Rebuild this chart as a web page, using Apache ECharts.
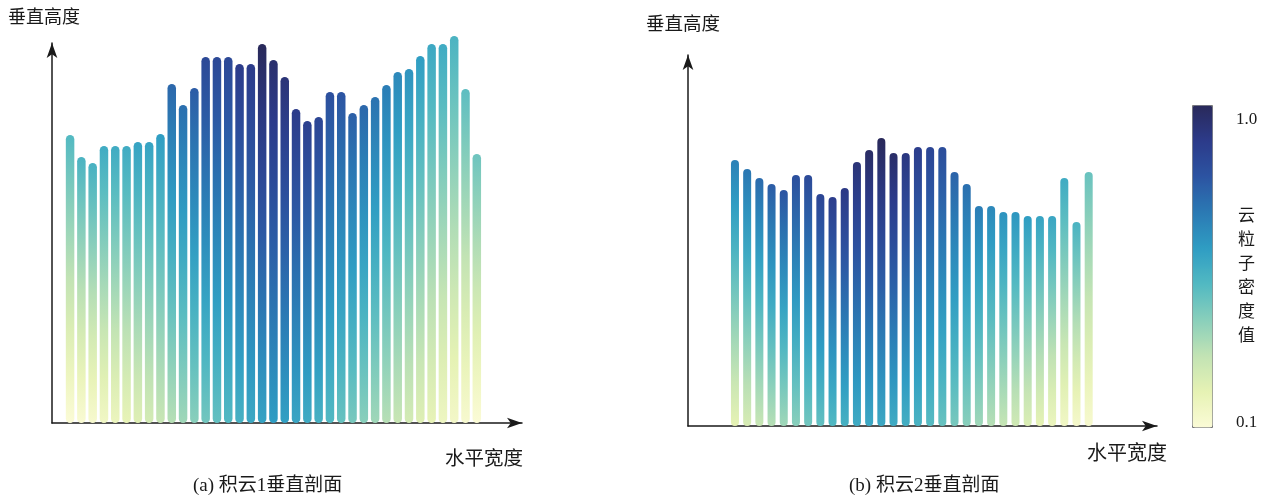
<!DOCTYPE html>
<html>
<head>
<meta charset="utf-8">
<title>积云垂直剖面</title>
<script src="https://cdn.jsdelivr.net/npm/echarts@6/dist/echarts.min.js"></script>
<style>
html, body { margin: 0; padding: 0; background: #fff; }
#main { width: 1262px; height: 499px; }
</style>
</head>
<body>
<div id="main"></div>
<script>
// (a) 积云1: 柱高 + 顶部/底部云粒子密度
var heightA = [288,266,260,277,277,277,281,281,289,339,318,335,366,366,366,359,359,379,363,346,314,302,306,331,331,310,318,326,338,351,354,367,379,379,387,334,269];
var topA = [0.50,0.52,0.53,0.55,0.55,0.55,0.58,0.58,0.60,0.75,0.73,0.78,0.85,0.85,0.85,0.90,0.90,1.00,0.96,0.94,0.90,0.88,0.86,0.82,0.80,0.77,0.75,0.72,0.69,0.66,0.63,0.60,0.56,0.55,0.52,0.48,0.45];
var bottomA = [0.10,0.11,0.12,0.15,0.17,0.19,0.22,0.25,0.28,0.32,0.36,0.40,0.44,0.47,0.50,0.53,0.56,0.58,0.60,0.59,0.57,0.55,0.53,0.50,0.46,0.43,0.40,0.36,0.32,0.28,0.25,0.22,0.19,0.16,0.14,0.12,0.10];

// (b) 积云2
var heightB = [266,257,248,242,236,251,251,232,229,238,264,276,288,273,273,279,279,279,254,242,220,220,214,214,210,210,210,248,204,254];
var topB = [0.68,0.71,0.74,0.78,0.80,0.82,0.84,0.86,0.89,0.91,0.94,0.98,1.00,0.97,0.92,0.89,0.86,0.83,0.76,0.73,0.69,0.66,0.63,0.62,0.60,0.58,0.57,0.55,0.52,0.46];
var bottomB = [0.20,0.24,0.28,0.32,0.36,0.40,0.44,0.47,0.50,0.53,0.55,0.56,0.56,0.55,0.54,0.52,0.49,0.46,0.43,0.40,0.36,0.32,0.29,0.26,0.23,0.20,0.17,0.15,0.13,0.12];

var densityMin = 0.1;
var densityMax = 1.0;
var densityLabels = ['1.0', '0.1'];
var palette = ['#fbfbd6','#e6f2b4','#c2e3b4','#89cfbb','#52b9c2','#2f9dc3','#2b7ab4','#2c54a2','#2c3b8a','#29295a'];

var myChart = echarts.init(document.getElementById('main'));

function colorAt(d) {
    var t = (d - densityMin) / (densityMax - densityMin);
    t = Math.max(0, Math.min(1, t));
    return echarts.color.lerp(t, palette);
}

function buildData(heights, tops, bottoms) {
    var list = [];
    for (var i = 0; i < heights.length; i++) {
        var stops = [];
        for (var k = 0; k <= 6; k++) {
            var d = tops[i] + (bottoms[i] - tops[i]) * k / 6;
            stops.push({ offset: k / 6, color: colorAt(d) });
        }
        list.push({
            value: [i + 1, heights[i]],
            itemStyle: { color: new echarts.graphic.LinearGradient(0, 0, 0, 1, stops) }
        });
    }
    return list;
}

function axis(idx, min, max) {
    return {
        type: 'value',
        gridIndex: idx,
        min: min,
        max: max,
        axisLine: {
            show: true,
            onZero: false,
            symbol: ['none', 'arrow'],
            symbolSize: [8, 15],
            lineStyle: { color: '#1a1a1a', width: 1.5 }
        },
        axisTick: { show: false },
        axisLabel: { show: false },
        splitLine: { show: false }
    };
}

var cjk = "'Liberation Serif', 'Noto Sans CJK SC', serif";

function label(x, y, text, size) {
    return {
        type: 'text',
        left: x,
        top: y,
        style: {
            text: text,
            fill: '#1a1a1a',
            font: size + 'px ' + cjk
        }
    };
}

option = {
    animation: false,
    grid: [
        { left: 52, top: 43, width: 470, height: 380 },
        { left: 688, top: 55, width: 469, height: 371 }
    ],
    xAxis: [axis(0, -0.6, 41), axis(1, -2.85, 35.6)],
    yAxis: [axis(0, 0, 380), axis(1, 0, 371)],
    visualMap: {
        type: 'continuous',
        min: densityMin,
        max: densityMax,
        seriesIndex: 2,
        orient: 'vertical',
        left: 1192,
        top: 105,
        itemWidth: 20,
        itemHeight: 322,
        calculable: false,
        padding: 0,
        borderColor: '#777',
        borderWidth: 1,
        inRange: { color: palette }
    },
    graphic: [
        label(8, 9, '垂直高度', 18),
        label(445, 450, '水平宽度', 19.5),
        label(646, 16, '垂直高度', 18.5),
        label(1087, 445, '水平宽度', 20),
        label(193, 477, '(a) 积云1垂直剖面', 19),
        label(849, 477, '(b) 积云2垂直剖面', 19),
        label(1236, 111, densityLabels[0], 17),
        label(1236, 414, densityLabels[1], 17),
        {
            type: 'text',
            left: 1238,
            top: 205,
            style: {
                text: '云\n粒\n子\n密\n度\n值',
                fill: '#1a1a1a',
                font: '17px ' + cjk,
                lineHeight: 24
            }
        }
    ],
    series: [
        {
            type: 'bar',
            xAxisIndex: 0,
            yAxisIndex: 0,
            barWidth: 8.5,
            clip: false,
            itemStyle: { borderRadius: 4.5 },
            data: buildData(heightA, topA, bottomA)
        },
        {
            type: 'bar',
            xAxisIndex: 1,
            yAxisIndex: 1,
            barWidth: 8,
            clip: false,
            itemStyle: { borderRadius: 4 },
            data: buildData(heightB, topB, bottomB)
        },
        {
            type: 'scatter',
            xAxisIndex: 1,
            yAxisIndex: 1,
            data: []
        }
    ]
};
myChart.setOption(option);
</script>
</body>
</html>
